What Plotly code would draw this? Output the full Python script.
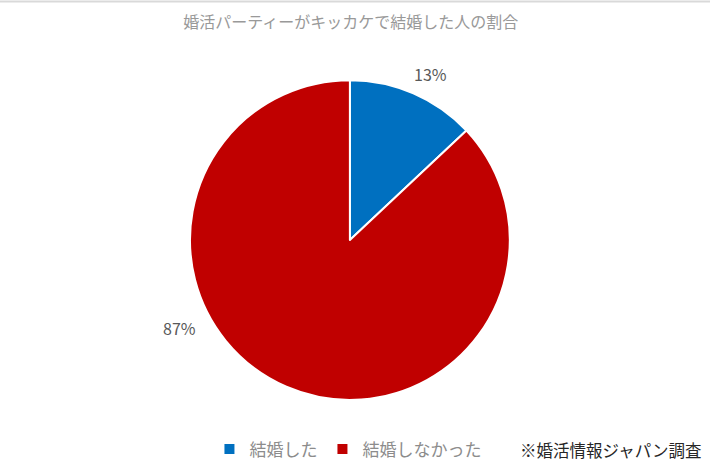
import plotly.graph_objects as go

labels = ["結婚した", "結婚しなかった"]
values = [13, 87]
colors = ["#0070C0", "#C00000"]

title_text = "婚活パーティーがキッカケで結婚した人の割合"
source_note = "※婚活情報ジャパン調査"

# where Excel put the data labels (paper coords)
label_pos = [(0.606, 0.843), (0.253, 0.307)]

total = sum(values)
pct_text = [f"{round(v / total * 100)}%" for v in values]

fig = go.Figure(go.Pie(
    labels=labels,
    values=values,
    sort=False,
    direction="clockwise",
    rotation=0,
    marker=dict(colors=colors, line=dict(color="white", width=2)),
    textinfo="none",
    hoverinfo="label+percent",
    domain=dict(x=[0.2676, 0.718], y=[0.154, 0.831]),
))

annos = []
for (px_, py_), t in zip(label_pos, pct_text):
    annos.append(dict(text=t, x=px_, y=py_, xref="paper", yref="paper",
                      xanchor="center", yanchor="middle", showarrow=False,
                      font=dict(size=16, color="#595959")))
annos.append(dict(text=source_note, x=0.73, xref="paper", xanchor="left",
                  y=0.049, yref="paper", yanchor="middle", showarrow=False,
                  font=dict(size=16.5, color="#262626")))

fig.update_layout(
    width=710, height=473,
    margin=dict(l=0, r=0, t=0, b=0),
    paper_bgcolor="white",
    font=dict(family="Noto Sans CJK JP", color="#595959"),
    title=dict(text=title_text, x=0.494, xanchor="center", y=0.953, yanchor="middle",
               font=dict(size=16, color="#999999")),
    showlegend=True,
    legend=dict(orientation="h", x=0.295, xanchor="left", y=0.05, yanchor="middle",
                font=dict(size=17, color="#8c8c8c"), itemwidth=30,
                traceorder="normal"),
    annotations=annos,
    shapes=[dict(type="line", xref="paper", yref="paper", x0=0, x1=1, y0=0.997, y1=0.997,
                 line=dict(color="#d9d9d9", width=2))],
)

fig.write_html("out.html", config={"displayModeBar": False},
               post_script="document.body.style.margin='0';")
